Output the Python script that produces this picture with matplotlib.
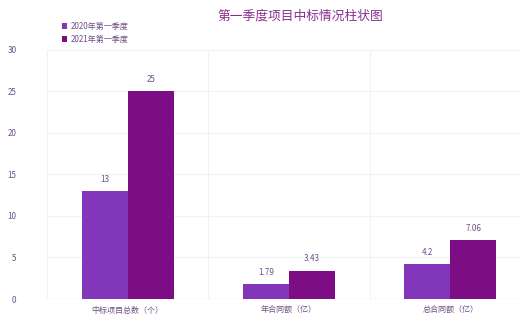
import matplotlib.pyplot as plt
import numpy as np

plt.rcParams['font.family'] = ['Noto Sans CJK SC', 'DejaVu Sans']

categories = ['中标项目总数（个）', '年合同额（亿）', '总合同额（亿）']
series_names = ['2020年第一季度', '2021年第一季度']
values_2020 = [13, 1.79, 4.2]
values_2021 = [25, 3.43, 7.06]
colors = ['#8236b9', '#7d0d84']

fig = plt.figure(figsize=(5.2, 3.26), dpi=100)
ax = fig.add_axes([0.0904, 0.0828, 0.931, 0.764])

x = np.arange(len(categories))
w = 0.285
bars1 = ax.bar(x - w / 2, values_2020, w, color=colors[0], label=series_names[0], zorder=3)
bars2 = ax.bar(x + w / 2, values_2021, w, color=colors[1], label=series_names[1], zorder=3)

label_color = '#6e4f86'
for bars, vals in ((bars1, values_2020), (bars2, values_2021)):
    for b, v in zip(bars, vals):
        ax.text(b.get_x() + b.get_width() / 2, v + 0.9, f'{v:g}',
                ha='center', va='bottom', fontsize=5.8, color=label_color)

ax.set_xlim(-0.5, 2.5)
ax.set_ylim(0, 30)
ax.set_yticks(range(0, 31, 5))
ax.set_xticks(x)
ax.set_xticklabels(categories)
ax.tick_params(axis='both', length=0, labelsize=5.8, colors=label_color)
ax.tick_params(axis='x', pad=5)
ax.tick_params(axis='y', pad=22)
for lbl in ax.get_yticklabels():
    lbl.set_horizontalalignment('right')

# light grid: horizontal at ticks, vertical between categories
grid_color = '#eef2fa'
for yv in range(5, 31, 5):
    ax.axhline(yv, color=grid_color, lw=0.8, zorder=0)
for xv in (-0.5, 0.5, 1.5):
    ax.axvline(xv, color=grid_color, lw=0.8, zorder=0)
for s in ax.spines.values():
    s.set_visible(False)
ax.axhline(0, color='#e3eaf6', lw=1.0, zorder=2)

fig.text(0.578, 0.95, '第一季度项目中标情况柱状图', ha='center', va='center',
         fontsize=9.2, color='#8a2b90')

fig.legend(loc='upper left', bbox_to_anchor=(0.105, 0.955), frameon=False,
           fontsize=5.8, handlelength=0.7, handleheight=0.7, handletextpad=0.4,
           labelspacing=0.45, labelcolor=label_color)

fig.savefig('out.png', dpi=100)
